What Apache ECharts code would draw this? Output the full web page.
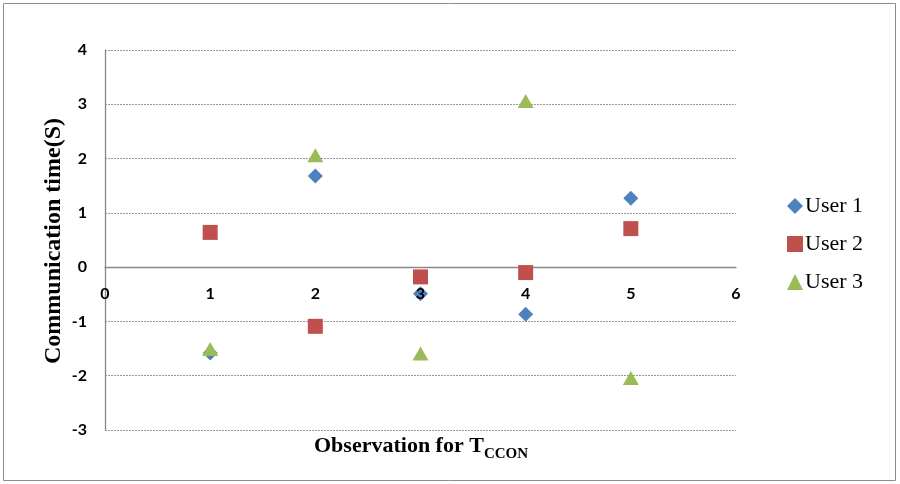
<!DOCTYPE html>
<html><head><meta charset="utf-8">
<script src="https://cdn.jsdelivr.net/npm/echarts@6/dist/echarts.min.js"></script>
<style>html,body{margin:0;padding:0;background:#fff}#c{width:900px;height:484px}</style>
</head><body><div id="c"></div>
<script>
const observations = [1, 2, 3, 4, 5];
const user1 = [-1.58, 1.68, -0.49, -0.87, 1.27];
const user2 = [0.64, -1.09, -0.18, -0.10, 0.71];
const user3 = [-1.51, 2.06, -1.59, 3.06, -2.04];
const seriesNames = ['User 1', 'User 2', 'User 3'];
const xTicks = [0, 1, 2, 3, 4, 5, 6];
const yTicks = [-3, -2, -1, 0, 1, 2, 3, 4];

const chart = echarts.init(document.getElementById('c'));
const pair = arr => observations.map((x, i) => [x, arr[i]]);
const labelFont = {fontFamily: 'Lato, "Open Sans", sans-serif', fontWeight: 'bold', fontSize: 16, color: '#000'};
const gridTop = 50, gridBottom = 54, plotH = 484 - gridTop - gridBottom;
const zeroOffset = -plotH * (0 - yTicks[0]) / (yTicks[yTicks.length - 1] - yTicks[0]);
chart.setOption({
  animation: false,
  grid: {left: 105, right: 164, top: gridTop, bottom: gridBottom, containLabel: false},
  xAxis: [{
    type: 'value', min: xTicks[0], max: xTicks[xTicks.length - 1], interval: 1,
    axisLine: {onZero: true, lineStyle: {color: '#888', width: 1.3}},
    axisTick: {show: false},
    splitLine: {show: false},
    axisLabel: {show: false}
  }, {
    type: 'value', position: 'bottom', offset: zeroOffset, z: 5,
    min: xTicks[0], max: xTicks[xTicks.length - 1], interval: 1,
    axisLine: {show: false, onZero: false},
    axisTick: {show: false},
    splitLine: {show: false},
    axisLabel: Object.assign({margin: 19}, labelFont)
  }],
  yAxis: {
    type: 'value', min: yTicks[0], max: yTicks[yTicks.length - 1], interval: 1,
    axisLine: {show: true, onZero: false, lineStyle: {color: '#888', width: 1.3}},
    axisTick: {show: false},
    splitLine: {show: true, lineStyle: {color: '#999', type: [2, 1], width: 1}},
    axisLabel: Object.assign({margin: 18}, labelFont)
  },
  legend: {
    orient: 'vertical', left: 782, top: 189, itemGap: 14,
    itemWidth: 16, itemHeight: 16,
    textStyle: {fontFamily: '"Liberation Serif", "Times New Roman", serif', fontSize: 22, lineHeight: 24, color: '#000', padding: [0, 0, 0, -3]},
    data: seriesNames
  },
  series: [
    {name: seriesNames[0], type: 'scatter', symbol: 'diamond', symbolSize: [15, 15], itemStyle: {color: '#4f81bd', opacity: 1}, data: pair(user1)},
    {name: seriesNames[1], type: 'scatter', symbol: 'rect', symbolSize: [15, 15], itemStyle: {color: '#c0504d', opacity: 1}, data: pair(user2)},
    {name: seriesNames[2], type: 'scatter', symbol: 'triangle', symbolSize: [16, 14], itemStyle: {color: '#9bbb59', opacity: 1}, data: pair(user3)}
  ],
  graphic: [
    {type: 'rect', shape: {x: 3.5, y: 3.5, width: 892, height: 477}, style: {fill: 'none', stroke: '#8c8c8c', lineWidth: 1}, silent: true},
    {type: 'text', left: 314, top: 435, style: {
      text: '{a|Observation for T}{b|CCON}',
      rich: {
        a: {fontFamily: '"Liberation Serif", serif', fontWeight: 'bold', fontSize: 22, fill: '#000'},
        b: {fontFamily: '"Liberation Serif", serif', fontWeight: 'bold', fontSize: 15, fill: '#000', verticalAlign: 'bottom', padding: [16, 0, 0, 0]}
      }
    }},
    {type: 'text', x: 54, y: 241, rotation: Math.PI / 2, style: {
      text: 'Communication time(S)', align: 'center', verticalAlign: 'middle',
      fontFamily: '"Liberation Serif", serif', fontWeight: 'bold', fontSize: 24, fill: '#000'
    }}
  ]
});
</script></body></html>
